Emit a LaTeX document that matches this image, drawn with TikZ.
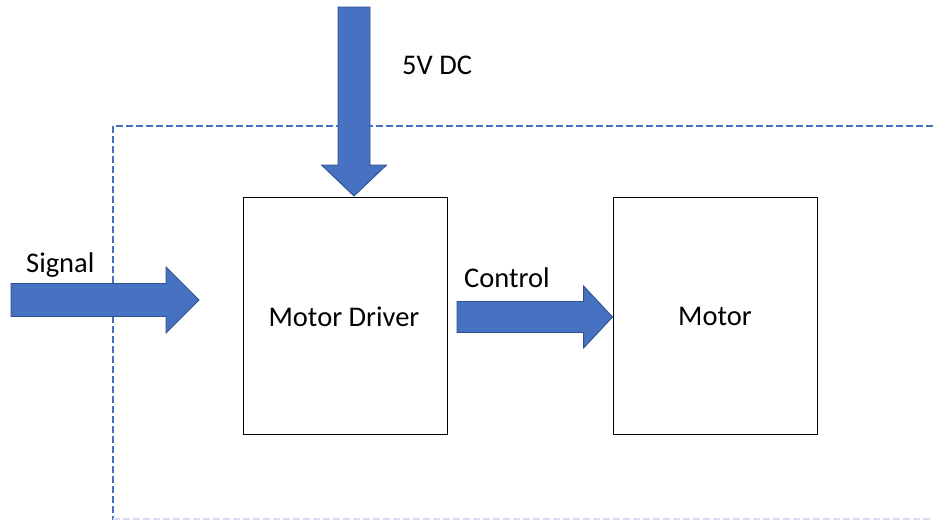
\documentclass[tikz,border=0pt]{standalone}
\usepackage{fontspec}
\setmainfont{Carlito}
\usetikzlibrary{calc}
\definecolor{officeblue}{HTML}{4772C2}
\definecolor{officeedge}{HTML}{2F528F}
\definecolor{faintblue}{HTML}{DADCF0}
\tikzset{
  blockarrow/.style={fill=officeblue, draw=officeedge, line width=0.9pt, line join=miter},
  unitbox/.style={draw=black, line width=0.9pt, minimum width=204pt, minimum height=237pt, inner sep=0pt},
  label/.style={font=\fontsize{28.5}{33}\selectfont, inner sep=0pt},
  boundary/.style={draw=officeblue, line width=1.4pt, dash pattern=on 7pt off 3pt},
}
% #1 tail, #2 tip, #3 shaft half width, #4 head half width, #5 head length (pt)
\newcommand\blockarrowdraw[5]{%
  \draw[blockarrow] let \p1=(#1), \p2=(#2),
      \n1={veclen(\x2-\x1,\y2-\y1)}, \n2={atan2(\y2-\y1,\x2-\x1)} in
    [shift={(\p1)}, rotate=\n2]
    (0pt,-#3pt) -- (\n1-#5pt,-#3pt) -- (\n1-#5pt,-#4pt) -- (\n1,0pt)
    -- (\n1-#5pt,#4pt) -- (\n1-#5pt,#3pt) -- (0pt,#3pt) -- cycle;}
\begin{document}
\begin{tikzpicture}[x=1pt,y=-1pt]
  \useasboundingbox (0,0) rectangle (933,520);

  % system boundary
  \coordinate (bTL) at (113,126);
  \coordinate (bTR) at (933,126);
  \coordinate (bBL) at (113,520);
  \draw[boundary] (bTR) -- (bTL) -- (bBL);
  \draw[draw=faintblue, line width=1.2pt, dash pattern=on 7pt off 3pt] (113,519) -- (933,519);

  % blocks
  \node[unitbox] (driver) at (345,315.5) {};
  \node[unitbox] (motor) at (715,315.5) {};
  \node[label] (driverlbl) at ($(driver.center)+(-1,1)$) {Motor Driver};
  \node[label] (motorlbl) at ($(motor.center)+(0,1)$) {Motor};

  % supply arrow
  \coordinate (supplytail) at (354,7);
  \coordinate (supplytip) at (354,196);
  \blockarrowdraw{supplytail}{supplytip}{16}{32.5}{31}
  \node[label, anchor=west] (supplylbl) at (402,65) {5V DC};

  % signal input arrow
  \coordinate (signaltail) at (11,300);
  \coordinate (signaltip) at (199,300);
  \blockarrowdraw{signaltail}{signaltip}{16.5}{33}{33}
  \node[label, anchor=west] (signallbl) at (26,265) {Signal};

  % control arrow
  \coordinate (controltail) at (457,317);
  \blockarrowdraw{controltail}{motor.west |- controltail}{15.5}{31}{29}
  \node[label, anchor=west] (controllbl) at (464,278) {Control};
\end{tikzpicture}
\end{document}
